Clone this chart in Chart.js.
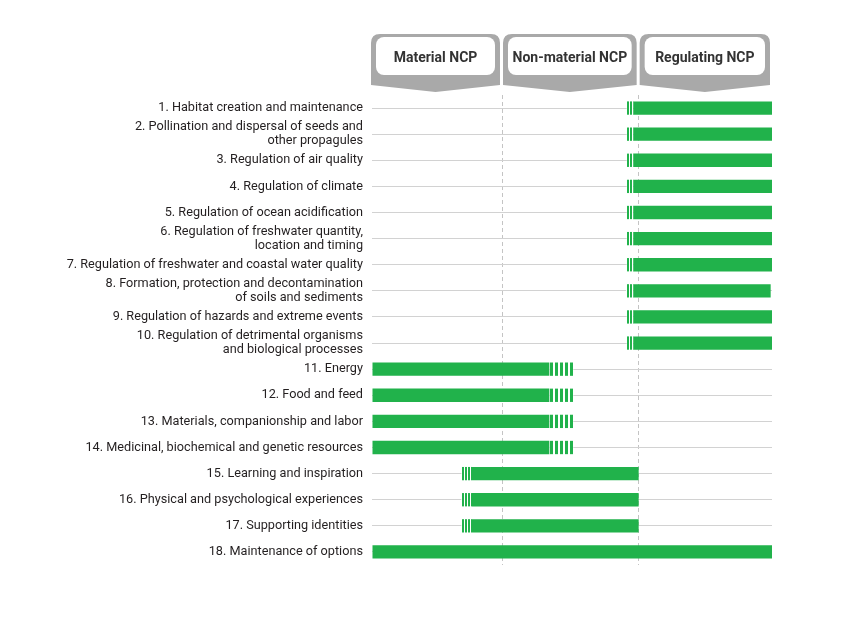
<!DOCTYPE html>
<html><head><meta charset="utf-8">
<script src="https://cdn.jsdelivr.net/npm/chart.js@4/dist/chart.umd.min.js"></script>
<style>html,body{margin:0;padding:0;background:#fff}#wrap{width:860px;height:631px;position:relative}</style>
</head><body><div id="wrap"><canvas id="c" width="860" height="631"></canvas></div>
<script>
const categories = [
  "1. Habitat creation and maintenance",
  ["2. Pollination and dispersal of seeds and", "other propagules"],
  "3. Regulation of air quality",
  "4. Regulation of climate",
  "5. Regulation of ocean acidification",
  ["6. Regulation of freshwater quantity,", "location and timing"],
  "7. Regulation of freshwater and coastal water quality",
  ["8. Formation, protection and decontamination", "of soils and sediments"],
  "9. Regulation of hazards and extreme events",
  ["10. Regulation of detrimental organisms", "and biological processes"],
  "11. Energy",
  "12. Food and feed",
  "13. Materials, companionship and labor",
  "14. Medicinal, biochemical and genetic resources",
  "15. Learning and inspiration",
  "16. Physical and psychological experiences",
  "17. Supporting identities",
  "18. Maintenance of options"
];
const groups = ["Material NCP", "Non-material NCP", "Regulating NCP"];
const groupBounds = [0, 0.975, 2, 3];

// solid part of each bar (NCP-group units: 0-0.975 material, 0.975-2 non-material, 2-3 regulating)
const solidStart = [1.96,1.96,1.96,1.96,1.96,1.96,1.96,1.96,1.96,1.96, 0,0,0,0, 0.75,0.75,0.75, 0];
const solidEnd   = [3,3,3,3,3,3,3,2.99,3,3, 1.33,1.33,1.33,1.33, 2,2,2, 3];
// faded (striped) extension of each bar
const fadeStart  = [1.91,1.91,1.91,1.91,1.91,1.91,1.91,1.905,1.91,1.91, 1.33,1.33,1.33,1.33, 0.67,0.67,0.67, null];
const fadeEnd    = [1.96,1.96,1.96,1.96,1.96,1.96,1.96,1.96,1.96,1.96, 1.51,1.51,1.51,1.51, 0.75,0.75,0.75, null];

const GREEN = '#21b24b';
const FONT = 'Roboto, "Open Sans", sans-serif';

function stripePattern(period, ink) {
  const pc = document.createElement('canvas');
  pc.width = period; pc.height = 4;
  const g = pc.getContext('2d');
  g.fillStyle = '#ffffff'; g.fillRect(0, 0, period, 4);
  g.fillStyle = GREEN; g.fillRect(0, 0, ink, 4);
  return document.getElementById('c').getContext('2d').createPattern(pc, 'repeat');
}
const patWide = stripePattern(5, 3);
const patThin = stripePattern(3, 2);

const solidData = categories.map((_, i) => [solidStart[i], solidEnd[i]]);
const fadeData = categories.map((_, i) => fadeStart[i] == null ? null : [fadeStart[i], fadeEnd[i]]);

const headerPlugin = {
  id: 'headers',
  afterDraw(chart) {
    const ctx = chart.ctx, xs = chart.scales.x;
    ctx.save();
    for (let i = 0; i < groups.length; i++) {
      const l = xs.getPixelForValue(groupBounds[i]) + (i === 0 ? -1 : 1);
      const r = xs.getPixelForValue(groupBounds[i + 1]) - 2;
      const top = 34, sideBot = 85, tip = 92, cx = (l + r) / 2;
      ctx.fillStyle = '#a9a9a9';
      ctx.beginPath();
      const rad = 9;
      ctx.moveTo(l, sideBot);
      ctx.lineTo(l, top + rad);
      ctx.quadraticCurveTo(l, top, l + rad, top);
      ctx.lineTo(r - rad, top);
      ctx.quadraticCurveTo(r, top, r, top + rad);
      ctx.lineTo(r, sideBot);
      ctx.lineTo(cx, tip);
      ctx.closePath();
      ctx.fill();
      ctx.fillStyle = '#ffffff';
      ctx.beginPath();
      ctx.roundRect(l + 5, top + 3, (r - l) - 10, 75 - (top + 3), 8);
      ctx.fill();
      ctx.fillStyle = '#333333';
      ctx.font = 'bold 14px ' + FONT;
      ctx.textAlign = 'center';
      ctx.textBaseline = 'middle';
      ctx.fillText(groups[i], cx, 58);
    }
    ctx.restore();
  }
};

new Chart(document.getElementById('c'), {
  type: 'bar',
  data: {
    labels: categories,
    datasets: [
      { label: 'solid', data: solidData, backgroundColor: GREEN, borderWidth: 0 },
      { label: 'fade', data: fadeData,
        backgroundColor: ctx => (ctx.dataIndex >= 10 && ctx.dataIndex <= 13) ? patWide : patThin,
        borderWidth: 0 }
    ]
  },
  options: {
    indexAxis: 'y',
    responsive: false,
    animation: false,
    grouped: false,
    categoryPercentage: 1,
    barPercentage: 0.51,
    layout: { padding: { top: 95, bottom: 66, left: 0, right: 88 } },
    plugins: { legend: { display: false }, tooltip: { enabled: false } },
    scales: {
      x: {
        min: 0, max: 3,
        afterBuildTicks(s) { s.ticks = groupBounds.map(v => ({ value: v })); },
        ticks: { display: false },
        grid: {
          drawTicks: false, lineWidth: 1,
          color: c => (c.index === 1 || c.index === 2) ? '#c4c4c4' : 'rgba(0,0,0,0)'
        },
        border: { display: false, dash: [4, 3] },
        afterFit(s) { s.height = 0; }
      },
      y: {
        grid: { offset: false, drawTicks: false, color: '#d2d2d2', lineWidth: 1 },
        border: { display: false },
        ticks: { autoSkip: false, padding: 9, color: '#231f20',
          font: { family: FONT, size: 12.7, lineHeight: 1.1 } },
        afterFit(s) { s.width = 372; }
      }
    }
  },
  plugins: [headerPlugin]
});
</script>
</body></html>
